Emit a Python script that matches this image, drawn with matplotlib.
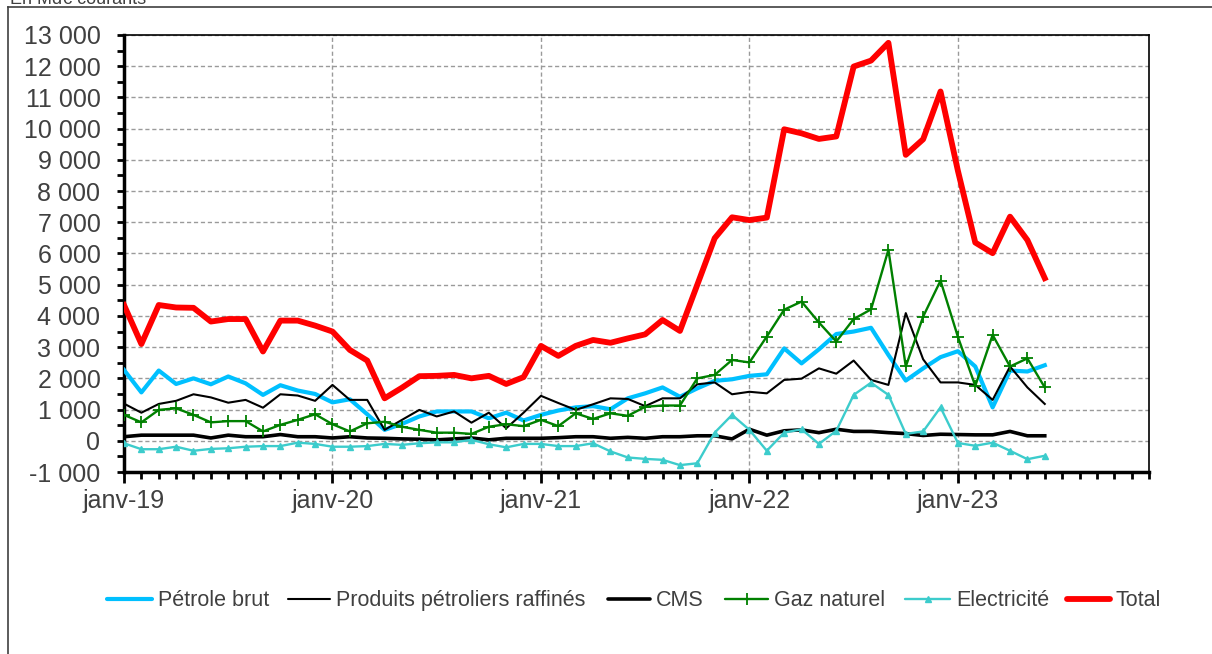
import numpy as np
import matplotlib
matplotlib.use('Agg')
import matplotlib.pyplot as plt
from matplotlib.ticker import MultipleLocator, FuncFormatter
from matplotlib.lines import Line2D

plt.rcParams['font.family'] = ['Liberation Sans', 'DejaVu Sans']

# monthly values, janv-19 .. juin-23 (Md€ courants)
petrole_brut = [2270, 1550, 2250, 1820, 2000, 1810, 2060, 1840, 1470, 1780, 1610, 1500,
                1230, 1330, 850, 350, 540, 780, 940, 940, 940, 720, 900, 650,
                830, 970, 1070, 1110, 1010, 1360, 1520, 1710, 1410, 1680, 1920, 1970,
                2080, 2130, 2960, 2480, 2930, 3420, 3500, 3620, 2750, 1930, 2320, 2680,
                2870, 2380, 1070, 2250, 2220, 2420]
produits_raffines = [1190, 900, 1180, 1280, 1490, 1390, 1220, 1310, 1060, 1490, 1450, 1280,
                     1790, 1310, 1310, 350, 670, 990, 780, 940, 580, 900, 400, 900,
                     1440, 1210, 990, 1170, 1360, 1340, 1110, 1360, 1360, 1810, 1870, 1490,
                     1570, 1520, 1950, 1990, 2320, 2150, 2570, 1950, 1790, 4090, 2610, 1870,
                     1870, 1790, 1310, 2380, 1710, 1180]
cms = [130, 180, 180, 180, 180, 90, 180, 130, 130, 200, 130, 130,
       90, 130, 90, 80, 60, 50, 30, 60, 90, 30, 80, 80,
       80, 100, 130, 130, 80, 110, 80, 130, 130, 160, 160, 60,
       370, 180, 320, 350, 260, 370, 300, 300, 260, 230, 170, 210,
       200, 190, 190, 300, 160, 160]
gaz_naturel = [830, 590, 990, 1040, 830, 590, 630, 630, 300, 510, 670, 850,
               530, 300, 560, 610, 450, 350, 260, 260, 220, 450, 530, 470,
               670, 470, 880, 700, 880, 800, 1090, 1130, 1130, 2000, 2110, 2590,
               2510, 3340, 4200, 4460, 3790, 3180, 3900, 4210, 6120, 2380, 3980, 5130,
               3330, 1760, 3390, 2380, 2640, 1710]
electricite = [-80, -270, -270, -190, -320, -260, -240, -190, -170, -170, -60, -100,
               -190, -190, -170, -100, -130, -80, -50, -50, 30, -110, -210, -100,
               -100, -170, -170, -80, -340, -535, -580, -610, -780, -720, 260, 830,
               350, -320, 260, 370, -100, 320, 1470, 1860, 1470, 220, 300, 1070,
               -70, -160, -60, -320, -590, -480]
total = [4350, 3100, 4350, 4270, 4260, 3820, 3900, 3900, 2860, 3850, 3850, 3690,
         3500, 2910, 2570, 1360, 1700, 2070, 2080, 2110, 2000, 2080, 1820, 2040,
         3040, 2720, 3040, 3230, 3140, 3280, 3410, 3870, 3520, 5000, 6490, 7160,
         7070, 7150, 9980, 9850, 9670, 9750, 11990, 12180, 12750, 9160, 9660, 11190,
         8650, 6350, 6010, 7180, 6430, 5210]
year_labels = ['janv-19', 'janv-20', 'janv-21', 'janv-22', 'janv-23']

months = np.arange(len(total))
txt = '#404040'
W, H = 1212, 654

fig = plt.figure(figsize=(W / 100, H / 100), dpi=100)
ax = fig.add_axes([124 / W, 1 - 472 / H, (1149 - 124) / W, (472 - 35) / H])

series = [
    (petrole_brut, 'Pétrole brut', dict(color='#00C0FF', lw=3.0)),
    (produits_raffines, 'Produits pétroliers raffinés', dict(color='black', lw=1.5)),
    (cms, 'CMS', dict(color='black', lw=2.6)),
    (gaz_naturel, 'Gaz naturel', dict(color='#008000', lw=1.7, marker='+', ms=8, mew=1.3)),
    (electricite, 'Electricité', dict(color='#3CCCCC', lw=1.7, marker='^', ms=4.5)),
    (total, 'Total', dict(color='#FF0000', lw=4.2)),
]
for vals, name, style in series:
    ax.plot(months, vals, label=name, zorder=4 if name == 'Total' else 3,
            solid_joinstyle='round', **style)

ax.set_xlim(0, 59)
ax.set_ylim(-1000, 13000)
ax.set_xticks(np.arange(0, 60, 12))
ax.set_xticklabels(year_labels)
ax.xaxis.set_minor_locator(MultipleLocator(1))
ax.yaxis.set_major_locator(MultipleLocator(1000))
ax.yaxis.set_minor_locator(MultipleLocator(500))
ax.yaxis.set_major_formatter(FuncFormatter(lambda v, p: f'{int(v):,}'.replace(',', ' ')))

ax.grid(True, which='major', color='#9a9a9a', linestyle=(0, (3, 2)), lw=1)
ax.set_axisbelow(True)

ax.tick_params(axis='y', which='major', direction='out', length=5, width=2,
               labelsize=18, labelcolor=txt, pad=12)
ax.tick_params(axis='y', which='minor', direction='out', length=5, width=2)
ax.tick_params(axis='x', which='major', direction='out', length=8, width=2,
               labelsize=18, labelcolor=txt, pad=4)
ax.tick_params(axis='x', which='minor', direction='out', length=5, width=2)

ax.spines['left'].set_linewidth(2.5)
ax.spines['bottom'].set_linewidth(2.5)
ax.spines['top'].set_linewidth(1.2)
ax.spines['right'].set_linewidth(1.2)

# legend drawn by hand so that all labels share one baseline
handle_x = [(107, 152), (288, 330), (608, 650), (725, 768), (905, 950), (1067, 1110)]
line_y = 1 - 599 / H
base_y = 1 - 606 / H
for (vals, name, style), (x0, x1) in zip(series, handle_x):
    st = {k: v for k, v in style.items() if k not in ('marker', 'ms', 'mew')}
    fig.add_artist(Line2D([x0 / W, x1 / W], [line_y, line_y], transform=fig.transFigure,
                          solid_capstyle='round', **st))
    if 'marker' in style:
        fig.add_artist(Line2D([(x0 + x1) / 2 / W], [line_y], transform=fig.transFigure,
                              color=style['color'], marker=style['marker'], ms=style['ms'],
                              mew=style.get('mew', 1), lw=0))
    fig.text((x1 + 6) / W, base_y, name, fontsize=15.5, color=txt, va='baseline')

# outer frame of the chart area (cut by the image edges)
fx = 8 / W
fy = 1 - 7 / H
fig.add_artist(Line2D([fx, fx], [0, fy], transform=fig.transFigure, color='#404040', lw=1.2))
fig.add_artist(Line2D([fx, 1], [fy, fy], transform=fig.transFigure, color='#404040', lw=1.2))
fig.text(fx + 0.002, 1 - 4 / H, 'En Md€ courants', fontsize=13, color=txt, va='baseline')

fig.savefig('out.png', dpi=100)
